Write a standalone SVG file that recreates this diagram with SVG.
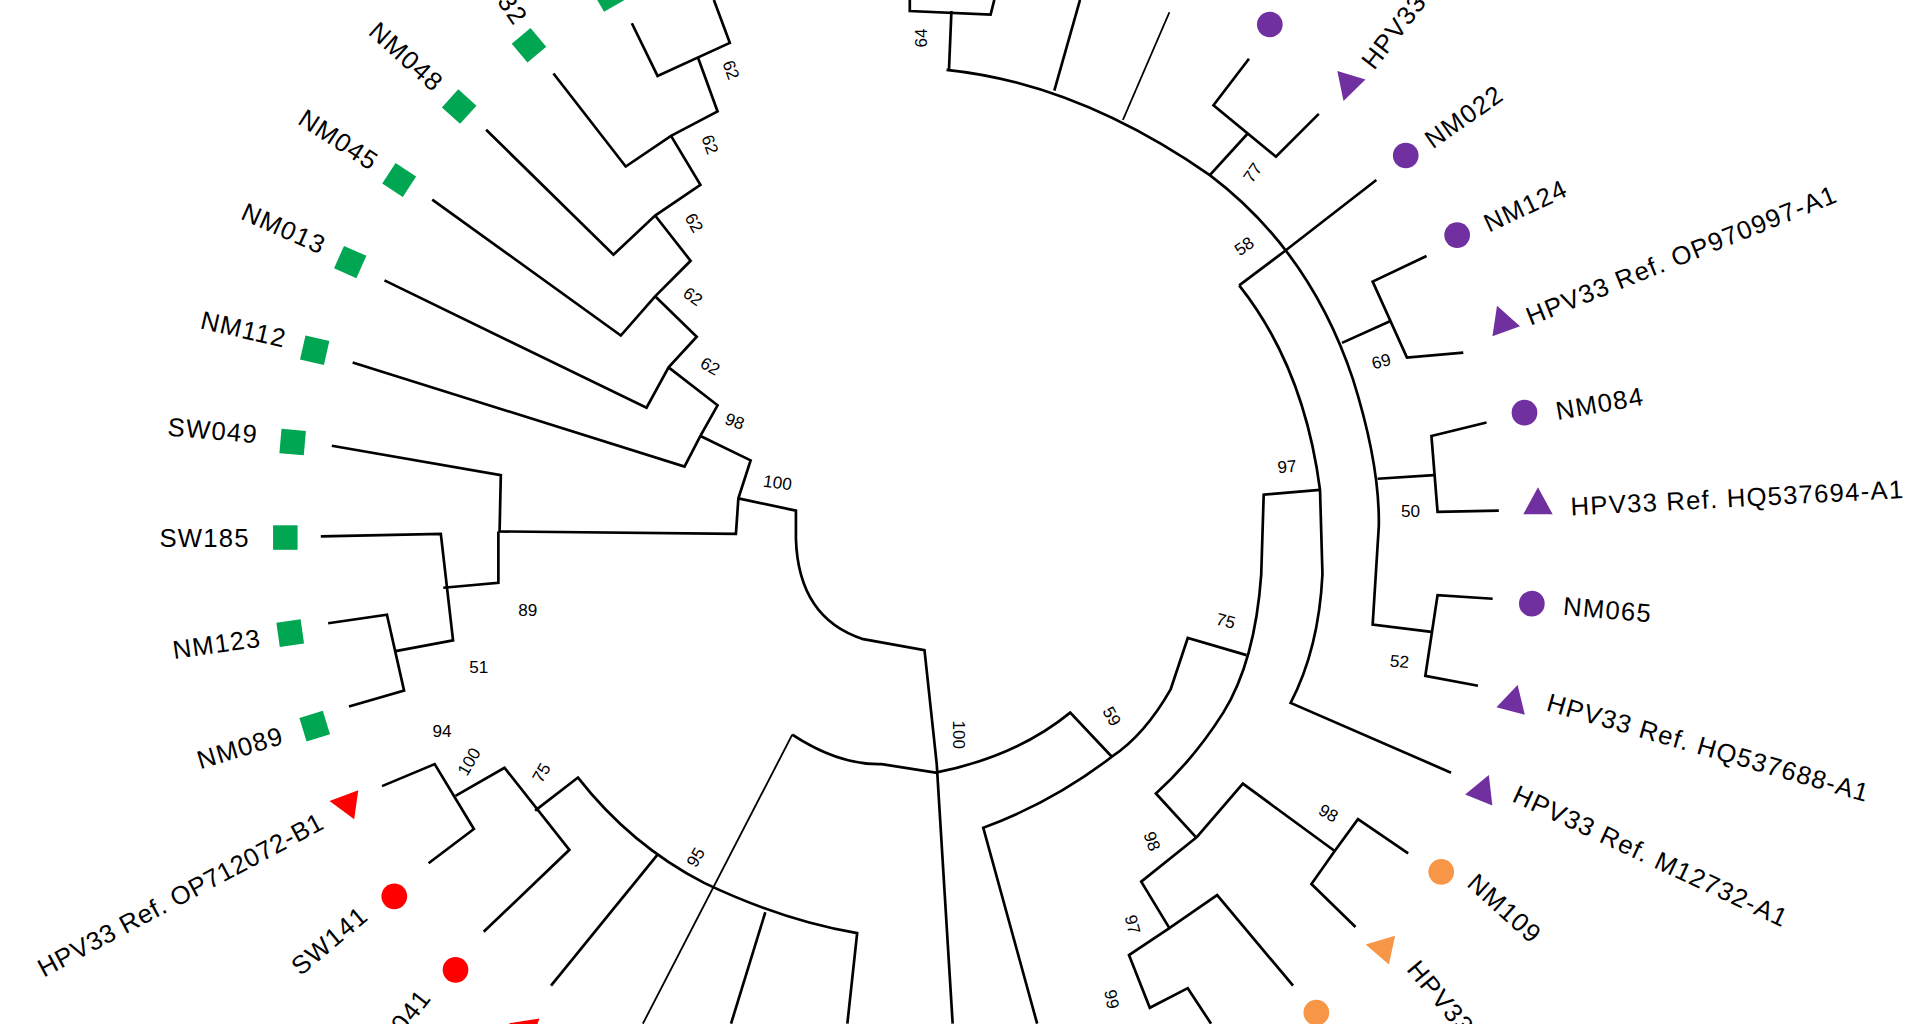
<svg xmlns="http://www.w3.org/2000/svg" width="1920" height="1024" viewBox="0 0 1920 1024">
<style>
.e{fill:none;stroke:#000;stroke-width:2.2;stroke-linejoin:miter}
.t{font-family:"Liberation Sans",Arial,sans-serif;font-size:21px;letter-spacing:1px;fill:#000}
.b{font-family:"Liberation Sans",Arial,sans-serif;font-size:14px;fill:#000;text-anchor:middle;dominant-baseline:central}
.g{fill:#00a651}.p{fill:#7030a0}.r{fill:#ff0000}.o{fill:#f79646}
</style>
<defs>
<rect id="sq" x="-10" y="-10" width="20" height="20"/>
<polygon id="tr" points="0,-13 12,9 -12,9"/>
<circle id="ci" r="10.5"/>
</defs>
<rect width="1920" height="1024" fill="#fff"/>
<g transform="scale(1.2245)">
<g id="connectors">
<path class="e" d="M583,0 L596,35 L537,62 L516,19"/>
<path class="e" d="M570,47 L586,91 L548,111 L511,136 L452,60"/>
<path class="e" d="M548,111 L572,151 L535,176 L501,208 L397,106"/>
<path class="e" d="M535,176 L564,213 L535,242 L507,274 L353,163"/>
<path class="e" d="M535,242 L569,275 L546,300 L528,333 L314,229"/>
<path class="e" d="M546,300 L586,331 L572,356 L559,381 L288,296"/>
<path class="e" d="M572,356 L613,376 L603,407 L601,436 L408,434 L409,388 L271,364"/>
<path class="e" d="M407,434 L407,476 L362,480"/>
<path class="e" d="M262,438 L360,436 L370,523 L322,532"/>
<path class="e" d="M268,509 L316,502 L330,564 L285,577"/>
<path class="e" d="M603,407 L650,417 L650,440 Q652,505 705,522 L755,531 L765,624 L778,836"/>
<path class="e" d="M312,642 L355,624 L387,677 L350,705"/>
<path class="e" d="M372,650 L412,627 L465,694 L395,761"/>
<path class="e" d="M437,662 L472,635 Q515,690 575,721 Q640,752 700,762 L692,836"/>
<path class="e" d="M537,698 L450,805"/>
<path class="e" d="M625,745 L597,836"/>
<path class="e" style="stroke-width:1.5" d="M647,600 L525,836"/>
<path class="e" d="M647,600 Q685,625 720,624 L764,631 Q830,618 874,582 L908,618"/>
<path class="e" d="M743,0 L743,9 L809,12 L812,0"/>
<path class="e" d="M777,9 L775,57"/>
<path class="e" d="M773,57 Q880,68 988,143 Q1070,205 1105,310 Q1127,380 1126,430 L1121,510 L1169,516"/>
<path class="e" d="M861,74 L882,0"/>
<path class="e" style="stroke-width:1.5" d="M917,98 L955,10"/>
<path class="e" d="M988,143 L1019,109"/>
<path class="e" d="M1020,48 L991,86 L1042,128 L1077,93"/>
<path class="e" d="M1012,233 L1048,206 L1124,147"/>
<path class="e" d="M1012,233 Q1065,300 1078,400 L1080,469 Q1077,530 1054,574 L1185,631"/>
<path class="e" d="M1078,400 L1032,404 L1030,469 Q1025,540 999,582 Q975,620 944,648 L977,684"/>
<path class="e" d="M1018,535 L970,521 L956,563 Q935,600 908,618 Q860,655 803,676 L847,836"/>
<path class="e" d="M1096,280 L1136,262"/>
<path class="e" d="M1165,209 L1121,230 L1149,292 L1195,288"/>
<path class="e" d="M1125,391 L1171,388"/>
<path class="e" d="M1214,345 L1169,356 L1174,418 L1224,417"/>
<path class="e" d="M1219,489 L1174,486 L1164,552 L1207,560"/>
<path class="e" d="M977,684 L1015,640 L1090,695"/>
<path class="e" d="M1150,697 L1109,669 L1090,695 L1071,722 L1107,757"/>
<path class="e" d="M977,684 L932,720 L955,758 L994,731 L1056,805"/>
<path class="e" d="M955,758 L922,780 L939,823 L970,807 L989,836"/>
</g>
<g id="bootstrap">
<text class="b" transform="translate(597,57) rotate(70)">62</text>
<text class="b" transform="translate(580,118) rotate(70)">62</text>
<text class="b" transform="translate(567,182) rotate(60)">62</text>
<text class="b" transform="translate(566,242) rotate(35)">62</text>
<text class="b" transform="translate(580,299) rotate(30)">62</text>
<text class="b" transform="translate(600,344) rotate(20)">98</text>
<text class="b" transform="translate(635,394) rotate(8)">100</text>
<text class="b" x="431" y="498">89</text>
<text class="b" x="391" y="545">51</text>
<text class="b" x="361" y="597">94</text>
<text class="b" transform="translate(383,622) rotate(-60)">100</text>
<text class="b" transform="translate(442,631) rotate(-60)">75</text>
<text class="b" transform="translate(568,700) rotate(-60)">95</text>
<text class="b" transform="translate(783,600) rotate(90)">100</text>
<text class="b" transform="translate(752,31) rotate(-90)">64</text>
<text class="b" transform="translate(1023,141) rotate(-55)">77</text>
<text class="b" transform="translate(1016,201) rotate(-35)">58</text>
<text class="b" transform="translate(1128,295) rotate(-15)">69</text>
<text class="b" x="1152" y="417">50</text>
<text class="b" transform="translate(1143,540) rotate(5)">52</text>
<text class="b" transform="translate(1051,381) rotate(-5)">97</text>
<text class="b" transform="translate(1001,507) rotate(15)">75</text>
<text class="b" transform="translate(908,585) rotate(60)">59</text>
<text class="b" transform="translate(1085,664) rotate(30)">98</text>
<text class="b" transform="translate(941,687) rotate(70)">98</text>
<text class="b" transform="translate(925,755) rotate(75)">97</text>
<text class="b" transform="translate(908,816) rotate(80)">99</text>
</g>
<g id="n-top"><use href="#sq" class="g" transform="translate(497,-4) rotate(60)"/></g>
<g id="n-NM032"><use href="#sq" class="g" transform="translate(432,37) rotate(50)"/><text class="t" text-anchor="end" transform="translate(420,22) rotate(55)">NM032</text></g>
<g id="n-NM048"><use href="#sq" class="g" transform="translate(375,87) rotate(42)"/><text class="t" text-anchor="end" transform="translate(354,76) rotate(42)">NM048</text></g>
<g id="n-NM045"><use href="#sq" class="g" transform="translate(326,147) rotate(33)"/><text class="t" text-anchor="end" transform="translate(303,140) rotate(33)">NM045</text></g>
<g id="n-NM013"><use href="#sq" class="g" transform="translate(286,214) rotate(24)"/><text class="t" text-anchor="end" transform="translate(262,208) rotate(24)">NM013</text></g>
<g id="n-NM112"><use href="#sq" class="g" transform="translate(257,286) rotate(13)"/><text class="t" text-anchor="end" transform="translate(232,284) rotate(13)">NM112</text></g>
<g id="n-SW049"><use href="#sq" class="g" transform="translate(239,361) rotate(5)"/><text class="t" text-anchor="end" transform="translate(210,362) rotate(5)">SW049</text></g>
<g id="n-SW185"><use href="#sq" class="g" transform="translate(233,439)"/><text class="t" text-anchor="end" x="204" y="447">SW185</text></g>
<g id="n-NM123"><use href="#sq" class="g" transform="translate(237,517) rotate(-8)"/><text class="t" text-anchor="end" transform="translate(214,528) rotate(-8)">NM123</text></g>
<g id="n-NM089"><use href="#sq" class="g" transform="translate(257,593) rotate(-17)"/><text class="t" text-anchor="end" transform="translate(233,607) rotate(-17)">NM089</text></g>
<g id="n-OP712072"><use href="#tr" class="r" transform="translate(282,656) rotate(-82)"/><text class="t" text-anchor="end" style="letter-spacing:0.5px" transform="translate(266,676) rotate(-28)">HPV33 Ref. OP712072-B1</text></g>
<g id="n-SW141"><use href="#ci" class="r" transform="translate(322,732)"/><text class="t" text-anchor="end" transform="translate(302,750) rotate(-40)">SW141</text></g>
<g id="n-NM041"><use href="#ci" class="r" transform="translate(372,792)"/><text class="t" text-anchor="end" transform="translate(353,815) rotate(-52)">NM041</text></g>
<g id="n-redtri"><use href="#tr" class="r" transform="translate(428,840) rotate(-70)"/></g>
<g id="n-ptop"><use href="#ci" class="p" transform="translate(1037,20)"/></g>
<g id="n-HPV33top"><use href="#tr" class="p" transform="translate(1101,70) rotate(197)"/><text class="t" transform="translate(1122,58) rotate(-52)">HPV33</text></g>
<g id="n-NM022"><use href="#ci" class="p" transform="translate(1148,127)"/><text class="t" transform="translate(1170,122) rotate(-35)">NM022</text></g>
<g id="n-NM124"><use href="#ci" class="p" transform="translate(1190,192)"/><text class="t" transform="translate(1216,190) rotate(-25)">NM124</text></g>
<g id="n-OP970997"><use href="#tr" class="p" transform="translate(1227,262) rotate(-20)"/><text class="t" transform="translate(1250,266) rotate(-22)">HPV33 Ref. OP970997-A1</text></g>
<g id="n-NM084"><use href="#ci" class="p" transform="translate(1245,337)"/><text class="t" transform="translate(1272,343) rotate(-10)">NM084</text></g>
<g id="n-HQ537694"><use href="#tr" class="p" transform="translate(1256,411)"/><text class="t" transform="translate(1283,421) rotate(-3)">HPV33 Ref. HQ537694-A1</text></g>
<g id="n-NM065"><use href="#ci" class="p" transform="translate(1251,493)"/><text class="t" transform="translate(1276,502) rotate(5)">NM065</text></g>
<g id="n-HQ537688"><use href="#tr" class="p" transform="translate(1236,572) rotate(15)"/><text class="t" transform="translate(1262,580) rotate(16)">HPV33 Ref. HQ537688-A1</text></g>
<g id="n-M12732"><use href="#tr" class="p" transform="translate(1211,645) rotate(22)"/><text class="t" transform="translate(1234,654) rotate(25)">HPV33 Ref. M12732-A1</text></g>
<g id="n-NM109"><use href="#ci" class="o" transform="translate(1177,712)"/><text class="t" transform="translate(1197,723) rotate(42)">NM109</text></g>
<g id="n-HPV33o"><use href="#tr" class="o" transform="translate(1128,774) rotate(-78)"/><text class="t" transform="translate(1148,792) rotate(50)">HPV33</text></g>
<g id="n-orc"><use href="#ci" class="o" transform="translate(1075,827)"/></g>
</g>
</svg>
